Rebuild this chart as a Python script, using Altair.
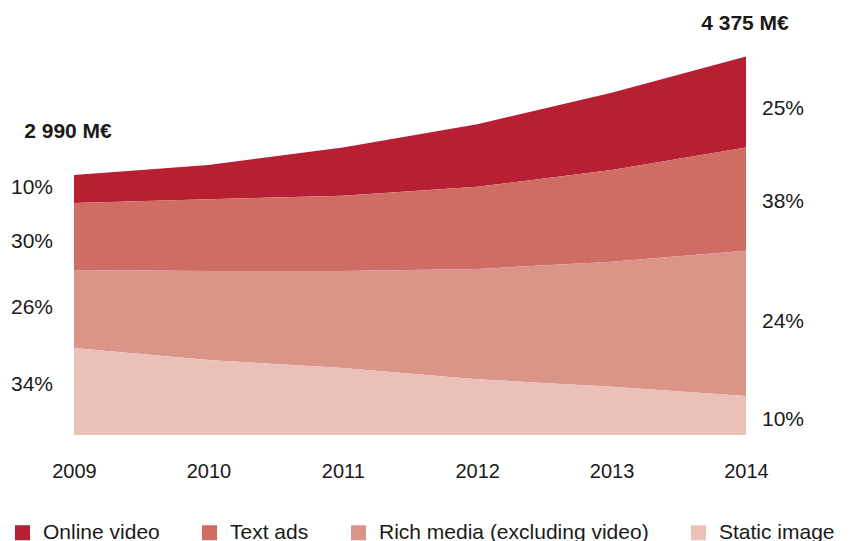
import altair as alt
import pandas as pd

years = [2009, 2010, 2011, 2012, 2013, 2014]
series_names = ["Online video", "Text ads", "Rich media (excluding video)", "Static image"]
colors = ["#B71F33", "#CF6D64", "#DB9488", "#EBC0B6"]
stack_order = [3, 2, 1, 0]  # static at bottom, video on top

# values in M€
video = [322, 394, 555, 718, 889, 1047]
text_ads = [770, 825, 863, 946, 1055, 1185]
rich = [897, 1024, 1116, 1268, 1438, 1671]
static = [1000, 863, 771, 641, 555, 449]

left_labels = ["10%", "30%", "26%", "34%"]
left_pos = [2846, 2214, 1466, 575]
right_labels = ["25%", "38%", "24%", "10%"]
right_pos = [3749, 2680, 1300, 173]
total_labels = ["2 990 M€", "4 375 M€"]
total_pos = [3490, 4732]

FONT = "Liberation Sans"
TXT = "#1a1a1a"

rows = []
for name, vals, o in zip(series_names, [video, text_ads, rich, static], stack_order):
    for y, v in zip(years, vals):
        rows.append({"year": y, "series": name, "value": v, "ord": o})
df = pd.DataFrame(rows)

area = alt.Chart(df).mark_area(interpolate="linear").encode(
    x=alt.X("year:Q",
            scale=alt.Scale(domain=[2009, 2014], nice=False, zero=False),
            axis=alt.Axis(values=years, format="d", title=None, domain=False, ticks=False,
                          grid=False, labelFlush=False, labelOverlap=False, labelPadding=26,
                          labelFontSize=20, labelFont=FONT, labelColor=TXT)),
    y=alt.Y("value:Q", stack="zero", scale=alt.Scale(domain=[0, 4784], nice=False), axis=None),
    color=alt.Color("series:N",
                    scale=alt.Scale(domain=series_names, range=colors),
                    legend=alt.Legend(orient="none", legendX=-62, legendY=503, direction="horizontal",
                                      title=None, symbolType="square", symbolSize=225,
                                      symbolStrokeWidth=0, symbolOpacity=1, labelFontSize=21,
                                      labelFont=FONT, labelColor=TXT, labelOffset=10,
                                      labelLimit=0, columnPadding=39, padding=0)),
    order=alt.Order("ord:Q", sort="ascending"),
)

left_df = pd.DataFrame({"year": [2009] * 4, "value": left_pos, "label": left_labels})
right_df = pd.DataFrame({"year": [2014] * 4, "value": right_pos, "label": right_labels})
tot1 = pd.DataFrame({"year": [2009], "value": [total_pos[0]], "label": [total_labels[0]]})
tot2 = pd.DataFrame({"year": [2014], "value": [total_pos[1]], "label": [total_labels[1]]})

def text_layer(d, **kw):
    return alt.Chart(d).mark_text(font=FONT, color=TXT, baseline="middle", **kw).encode(
        x="year:Q", y="value:Q", text="label:N")

left = text_layer(left_df, align="right", dx=-21, fontSize=21)
right = text_layer(right_df, align="left", dx=16, fontSize=21)
t1 = text_layer(tot1, align="center", dx=-6, fontSize=21, fontWeight="bold")
t2 = text_layer(tot2, align="center", dx=-1, fontSize=21, fontWeight="bold")

chart = alt.layer(area, left, right, t1, t2).properties(
    width=672, height=416,
    padding={"left": 66, "top": 11, "right": 100, "bottom": 106},
    autosize=alt.AutoSizeParams(type="none"),
).configure_view(stroke=None)

chart.save("out.html", embed_options={"renderer": "svg", "actions": False})
